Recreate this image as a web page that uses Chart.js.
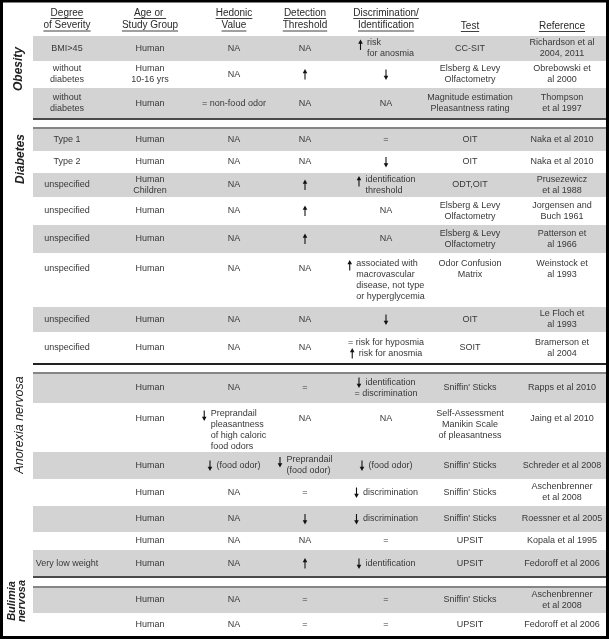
<!DOCTYPE html>
<html>
<head>
<meta charset="utf-8">
<script src="https://cdn.jsdelivr.net/npm/chart.js@4.4.1/dist/chart.umd.min.js"></script>
<style>
  html, body { margin: 0; padding: 0; background: #fff; }
  canvas { display: block; }
</style>
</head>
<body>
<canvas id="tbl" width="609" height="639"></canvas>
<script>
// --- 1. Table content ---
const groups = ["Obesity", "Diabetes", "Anorexia nervosa", "Bulimia\nnervosa"];
const groupRows = [3, 8, 7, 2];
const headers = ["Degree\nof Severity", "Age or \nStudy Group", "Hedonic\nValue", "Detection\nThreshold",
                 "Discrimination/\nIdentification", "Test", "Reference"];

const severity = ["BMI>45", "without\ndiabetes", "without\ndiabetes",
  "Type 1", "Type 2", "unspecified", "unspecified", "unspecified", "unspecified", "unspecified", "unspecified",
  "", "", "", "", "", "", "Very low weight",
  "", ""];
const studyGroup = ["Human", "Human\n10-16 yrs", "Human",
  "Human", "Human", "Human\nChildren", "Human", "Human", "Human", "Human", "Human",
  "Human", "Human", "Human", "Human", "Human", "Human", "Human",
  "Human", "Human"];
const hedonic = ["NA", "NA", "= non-food odor",
  "NA", "NA", "NA", "NA", "NA", "NA", "NA", "NA",
  "NA", "↓ Preprandail\npleasantness\nof high caloric\nfood odors", "↓ (food odor)", "NA", "NA", "NA", "NA",
  "NA", "NA"];
const detection = ["NA", "↑", "NA",
  "NA", "NA", "↑", "↑", "↑", "NA", "NA", "NA",
  "=", "NA", "↓ Preprandail\n(food odor)", "=", "↓", "NA", "↑",
  "=", "="];
const discrimination = ["↑ risk\nfor anosmia", "↓", "NA",
  "=", "↓", "↑ identification\nthreshold", "NA", "NA",
  "↑ associated with\nmacrovascular\ndisease, not type\nor hyperglycemia", "↓",
  "= risk for hyposmia\n↑ risk for anosmia",
  "↓ identification\n= discrimination", "NA", "↓ (food odor)", "↓ discrimination", "↓ discrimination", "=", "↓ identification",
  "=", "="];
const tests = ["CC-SIT", "Elsberg & Levy\nOlfactometry", "Magnitude estimation\nPleasantness rating",
  "OIT", "OIT", "ODT,OIT", "Elsberg & Levy\nOlfactometry", "Elsberg & Levy\nOlfactometry", "Odor Confusion\nMatrix", "OIT", "SOIT",
  "Sniffin' Sticks", "Self-Assessment\nManikin Scale\nof pleasantness", "Sniffin' Sticks", "Sniffin' Sticks", "Sniffin' Sticks", "UPSIT", "UPSIT",
  "Sniffin' Sticks", "UPSIT"];
const references = ["Richardson et al\n2004, 2011", "Obrebowski et\nal 2000", "Thompson\net al 1997",
  "Naka et al 2010", "Naka et al 2010", "Prusezewicz\net al 1988", "Jorgensen and\nBuch 1961", "Patterson et\nal 1966",
  "Weinstock et\nal 1993", "Le Floch et\nal 1993", "Bramerson et\nal 2004",
  "Rapps et al 2010", "Jaing et al 2010", "Schreder et al 2008", "Aschenbrenner\net al 2008", "Roessner et al 2005",
  "Kopala et al 1995", "Fedoroff et al 2006",
  "Aschenbrenner\net al 2008", "Fedoroff et al 2006"];

const columns = [severity, studyGroup, hedonic, detection, discrimination, tests, references];

// --- 2. Layout (axis units = px, since the axes fill the canvas) ---
const colCenters = [67, 150, 234, 305, 386, 470, 562];
const rowHeights = [25, 27, 31,  23, 22, 24, 28, 28, 54, 25, 32,  30, 49, 27, 27, 26, 18, 27,  26, 23];
const groupGaps = [0, 9, 9, 10];
const headerH = 36;
const tableLeft = 33, tableRight = 606;
const labelX = [19, 21, 20, 17];
const labelY = [69, 159, 425, 601];
const labelBold = [true, true, false, true];
const LINE_H = 11;
const ARROW_W = 9;
const BODY_FONT = '9px "Liberation Sans", Arial, sans-serif';
const HEAD_FONT = '10px "Liberation Sans", Arial, sans-serif';

function drawArrow(ctx, x, y, dir) {
    const s = dir === "↑" ? -1 : 1;   // s points toward the head
    ctx.save();
    ctx.strokeStyle = "#111";
    ctx.fillStyle = "#111";
    ctx.lineWidth = 1.1;
    ctx.beginPath();
    ctx.moveTo(x, y - 5 * s);
    ctx.lineTo(x, y + 2 * s);
    ctx.stroke();
    ctx.beginPath();
    ctx.moveTo(x, y + 5.5 * s);
    ctx.lineTo(x - 2.3, y + 1.3 * s);
    ctx.lineTo(x + 2.3, y + 1.3 * s);
    ctx.closePath();
    ctx.fill();
    ctx.restore();
}

const isArrow = s => s[0] === "↑" || s[0] === "↓";

function drawCell(ctx, text, cx, anchorY) {
    if (!text) return;
    const lines = text.split("\n");
    const n = lines.length;
    const y0 = anchorY - (Math.min(n, 2) - 1) * LINE_H / 2;
    const rest = lines.slice(1);
    const blockMode = n > 1 && isArrow(lines[0]) && rest.every(s => !isArrow(s) && s[0] !== "=");
    if (blockMode) {
        // arrow sits left of a left-aligned block
        const body = [lines[0].slice(1).trim(), ...rest];
        const w = Math.max(...body.map(s => ctx.measureText(s).width));
        const left = cx - (w + ARROW_W) / 2;
        drawArrow(ctx, left + 2.5, y0 + 2, lines[0][0]);
        ctx.textAlign = "left";
        body.forEach((s, i) => ctx.fillText(s, left + ARROW_W, y0 + i * LINE_H));
        return;
    }
    lines.forEach((s, i) => {
        const y = y0 + i * LINE_H;
        if (isArrow(s)) {
            const t = s.slice(1).trim();
            if (!t) { drawArrow(ctx, cx, y, s[0]); return; }
            const left = cx - (ctx.measureText(t).width + ARROW_W) / 2;
            drawArrow(ctx, left + 2.5, y, s[0]);
            ctx.textAlign = "left";
            ctx.fillText(t, left + ARROW_W, y);
        } else {
            ctx.textAlign = "center";
            ctx.fillText(s, cx, y);
        }
    });
}

// --- 3. Plugin that paints the table through the chart scales ---
const tablePlugin = {
    id: "tablePlugin",
    afterDraw(chart) {
        const ctx = chart.ctx;
        const xs = chart.scales.x, ys = chart.scales.y;
        const X = v => xs.getPixelForValue(v);
        const Y = v => ys.getPixelForValue(v);

        // row boundaries
        const rowTops = [];
        const groupTops = [];
        let y = headerH, r = 0;
        groups.forEach((g, gi) => {
            y += groupGaps[gi];
            groupTops.push(y);
            for (let k = 0; k < groupRows[gi]; k++) {
                rowTops.push({ top: y, h: rowHeights[r], shaded: k % 2 === 0 });
                y += rowHeights[r];
                r++;
            }
        });

        ctx.save();
        // shaded bands
        ctx.fillStyle = "#d3d3d3";
        rowTops.forEach(rw => {
            if (rw.shaded) ctx.fillRect(X(tableLeft), Y(rw.top), X(tableRight) - X(tableLeft), Y(rw.top + rw.h) - Y(rw.top));
        });

        // group separators
        groupTops.forEach((gt, gi) => {
            if (gi === 0) return;
            ctx.strokeStyle = gi === 2 ? "#222" : "#4a4a4a";
            ctx.lineWidth = 2;
            ctx.beginPath();
            ctx.moveTo(X(tableLeft), Y(gt - groupGaps[gi]));
            ctx.lineTo(X(tableRight), Y(gt - groupGaps[gi]));
            ctx.stroke();
            ctx.strokeStyle = "#858585";
            ctx.beginPath();
            ctx.moveTo(X(tableLeft), Y(gt));
            ctx.lineTo(X(tableRight), Y(gt));
            ctx.stroke();
        });

        // body text
        ctx.font = BODY_FONT;
        ctx.textBaseline = "middle";
        rowTops.forEach((rw, ri) => {
            const anchor = rw.top + Math.min(rw.h, 32) / 2;
            columns.forEach((col, ci) => {
                ctx.fillStyle = "#383838";
                drawCell(ctx, col[ri], X(colCenters[ci]), Y(anchor));
            });
        });

        // header with underlines
        ctx.font = HEAD_FONT;
        ctx.fillStyle = "#2a2a2a";
        ctx.strokeStyle = "#2a2a2a";
        ctx.lineWidth = 0.9;
        ctx.textAlign = "center";
        headers.forEach((h, ci) => {
            const lines = h.split("\n");
            const start = lines.length === 1 ? 26 : 13;
            lines.forEach((s, i) => {
                const yy = Y(start + i * 12.5);
                const cx = X(colCenters[ci]);
                ctx.fillText(s, cx, yy);
                const w = ctx.measureText(s).width;
                ctx.beginPath();
                ctx.moveTo(cx - w / 2, yy + 5.5);
                ctx.lineTo(cx + w / 2, yy + 5.5);
                ctx.stroke();
            });
        });

        // rotated group labels
        ctx.fillStyle = "#222";
        groups.forEach((g, gi) => {
            ctx.save();
            ctx.translate(X(labelX[gi]), Y(labelY[gi]));
            ctx.rotate(-Math.PI / 2);
            ctx.font = (labelBold[gi] ? "italic bold 12px" : "italic 12.5px") + ' "Liberation Sans", Arial, sans-serif';
            if (gi === 3) ctx.font = 'italic bold 11px "Liberation Sans", Arial, sans-serif';
            ctx.textAlign = "center";
            const lines = g.split("\n");
            lines.forEach((s, i) => ctx.fillText(s, 0, (i - (lines.length - 1) / 2) * 10));
            ctx.restore();
        });

        // outer frame
        ctx.strokeStyle = "#000";
        ctx.lineWidth = 3;
        ctx.strokeRect(1.5, 1, chart.width - 3, chart.height - 2.5);
        ctx.restore();
    }
};

new Chart(document.getElementById("tbl"), {
    type: "scatter",
    data: { datasets: [] },
    options: {
        responsive: false,
        animation: false,
        layout: { padding: 0 },
        plugins: { legend: { display: false }, tooltip: { enabled: false } },
        scales: {
            x: { type: "linear", min: 0, max: 609, display: false },
            y: { type: "linear", min: 0, max: 639, reverse: true, display: false }
        }
    },
    plugins: [tablePlugin]
});
</script>
</body>
</html>
